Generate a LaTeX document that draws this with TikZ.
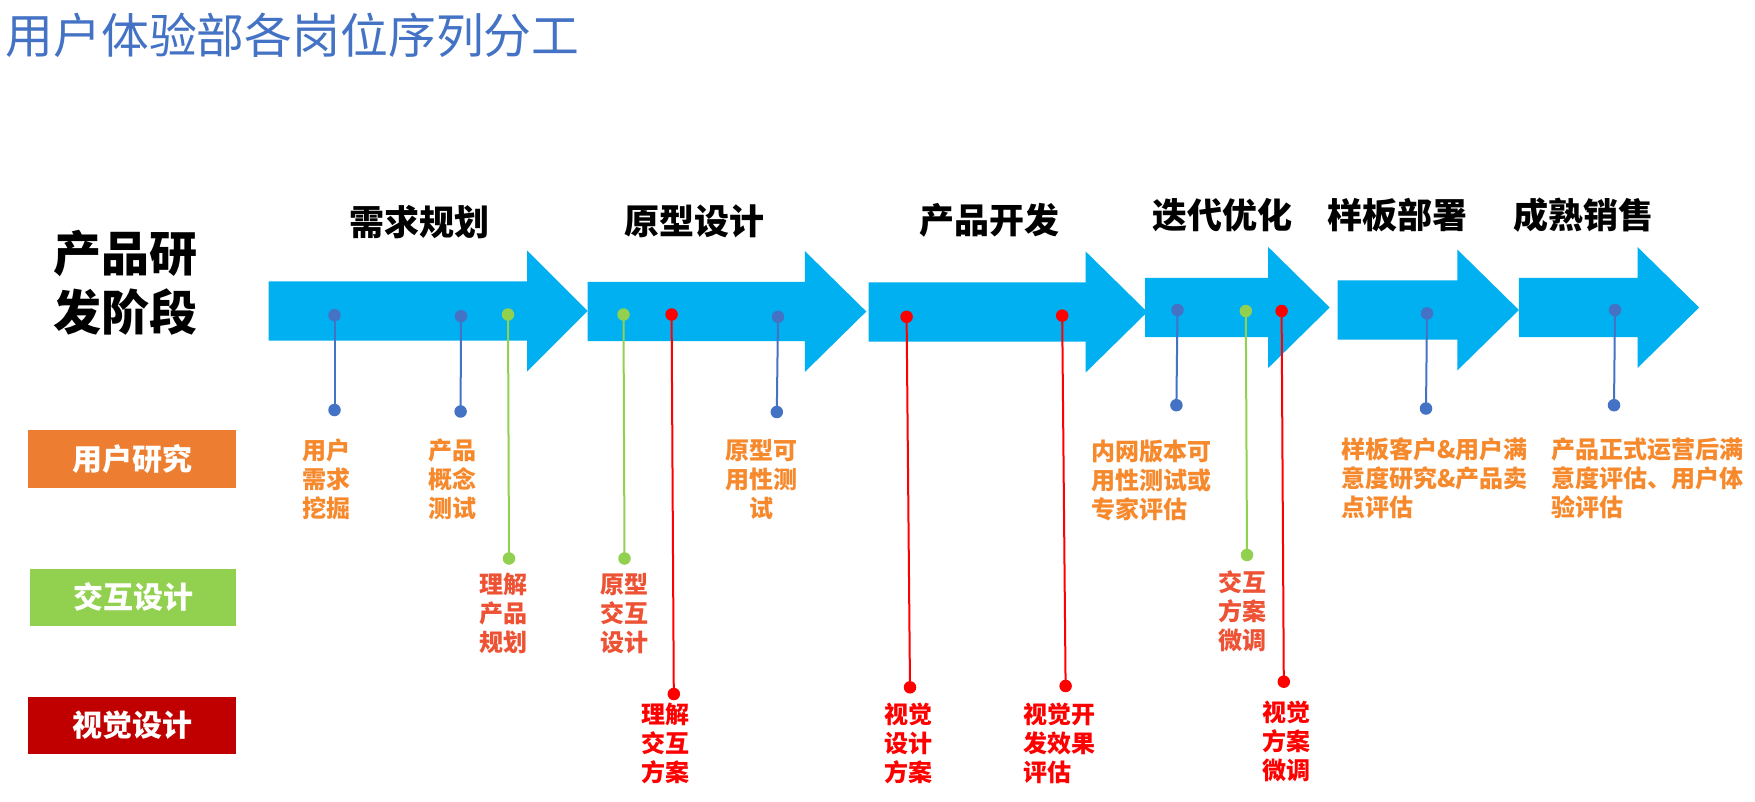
\documentclass[tikz,border=0pt]{standalone}
\usepackage{fontspec}
\setmainfont{Noto Sans CJK SC}
\definecolor{titleblue}{HTML}{4472C4}
\definecolor{arrowblue}{HTML}{00B0F0}
\definecolor{dotblue}{HTML}{4472C4}
\definecolor{dotgreen}{HTML}{92D050}
\definecolor{dotred}{HTML}{FF0000}
\definecolor{boxorange}{HTML}{ED7D31}
\definecolor{boxgreen}{HTML}{92D050}
\definecolor{boxred}{HTML}{C00000}
\definecolor{laborange}{RGB}{247,137,45}
\definecolor{labcoral}{RGB}{238,82,52}
\definecolor{labred}{HTML}{FF0000}
\newcommand\stagearrow[4]{% x1, head x, tip x, center y
  \fill[arrowblue] (#1,#4-29.7) -- (#2,#4-29.7) -- (#2,#4-60.5) -- (#3,#4)
    -- (#2,#4+60.5) -- (#2,#4+29.7) -- (#1,#4+29.7) -- cycle;}
\begin{document}
\begin{tikzpicture}[x=1pt,y=-1pt,
  stage/.style={inner sep=0pt, font=\bfseries\fontsize{35}{42}\selectfont},
  rowbox/.style={inner sep=0pt, minimum width=208pt, minimum height=58pt, text=white,
    font=\bfseries\fontsize{30}{36}\selectfont},
  dotb/.style={circle, fill=dotblue, inner sep=0pt, minimum size=12.5pt},
  dotg/.style={circle, fill=dotgreen, inner sep=0pt, minimum size=12.5pt},
  dotr/.style={circle, fill=dotred, inner sep=0pt, minimum size=12.5pt},
  lineb/.style={draw=dotblue, line width=2pt},
  lineg/.style={draw=dotgreen, line width=2pt},
  liner/.style={draw=dotred, line width=2pt},
  lab/.style={inner sep=0pt, anchor=north west, align=left,
    font=\bfseries\fontsize{24}{29}\selectfont},
  labc/.style={inner sep=0pt, anchor=north, align=center,
    font=\bfseries\fontsize{24}{29}\selectfont}]
\useasboundingbox[fill=white] (0,0) rectangle (1755,801);

% title
\node[anchor=north west, inner sep=0pt, text=titleblue,
  font=\fontsize{47.8}{56}\selectfont] (title) at (5.6,12.5) {用户体验部各岗位序列分工};

% phase label
\node[anchor=north west, inner sep=0pt, align=left,
  font=\bfseries\fontsize{48}{59}\selectfont] (phase) at (53.7,229.5) {产品研\\发阶段};

% arrows
\stagearrow{268.6}{527.2}{587.6}{311}
\stagearrow{587.6}{804.8}{866.3}{311.5}
\stagearrow{868.6}{1085.7}{1147.3}{312}
\stagearrow{1145}{1268.2}{1329.7}{307.5}
\stagearrow{1337.6}{1457.3}{1518.9}{310}
\stagearrow{1518.9}{1637.5}{1699.1}{307.5}

% stage labels
\node[stage] (s1) at (419.7,221.6) {需求规划};
\node[stage] (s2) at (694,221.6) {原型设计};
\node[stage] (s3) at (989.5,220.5) {产品开发};
\node[stage] (s4) at (1222.3,215) {迭代优化};
\node[stage] (s5) at (1397,215) {样板部署};
\node[stage] (s6) at (1583.8,215) {成熟销售};

% row boxes
\node[rowbox, fill=boxorange] (r1) at (132,459) {用户研究};
\node[rowbox, fill=boxgreen, minimum width=206pt, minimum height=57pt] (r2) at (133,597) {交互设计};
\node[rowbox, fill=boxred, minimum height=57pt] (r3) at (132,725.5) {视觉设计};

% blue connectors
\node[dotb] (a1) at (334.5,315.2) {}; \node[dotb] (a2) at (334.5,410) {};
\node[dotb] (b1) at (461,316.2) {};   \node[dotb] (b2) at (460.6,411.5) {};
\node[dotb] (c1) at (778,316.8) {};   \node[dotb] (c2) at (776.8,412) {};
\node[dotb] (d1) at (1177.5,310) {};  \node[dotb] (d2) at (1176.4,405.2) {};
\node[dotb] (e1) at (1427,313.4) {};  \node[dotb] (e2) at (1426,408.5) {};
\node[dotb] (f1) at (1615,310) {};    \node[dotb] (f2) at (1614,405.2) {};
\foreach \n in {a,b,c,d,e,f} \draw[lineb] (\n1.center) -- (\n2.center);

% green connectors
\node[dotg] (g1) at (508,314.5) {};   \node[dotg] (g2) at (509,558.5) {};
\node[dotg] (h1) at (623.5,314.5) {}; \node[dotg] (h2) at (624.5,558.5) {};
\node[dotg] (i1) at (1245.8,311) {};  \node[dotg] (i2) at (1247,555) {};
\foreach \n in {g,h,i} \draw[lineg] (\n1.center) -- (\n2.center);

% red connectors
\node[dotr] (j1) at (671.6,314.5) {}; \node[dotr] (j2) at (673.8,694) {};
\node[dotr] (k1) at (906.6,316.8) {}; \node[dotr] (k2) at (910,687.3) {};
\node[dotr] (l1) at (1062.2,315.6) {};\node[dotr] (l2) at (1065.6,686) {};
\node[dotr] (m1) at (1281.6,311) {};  \node[dotr] (m2) at (1283.8,681.7) {};
\foreach \n in {j,k,l,m} \draw[liner] (\n1.center) -- (\n2.center);

% user research labels
\node[lab, text=laborange] (la) at (302.2,438.8) {用户\\需求\\挖掘};
\node[lab, text=laborange] (lb) at (428.7,438.8) {产品\\概念\\测试};
\node[labc, text=laborange] (lc) at (761.7,438.8) {原型可\\用性测\\试};
\node[lab, text=laborange] (ld) at (1091.3,440) {内网版本可\\用性测试或\\专家评估};
\node[lab, text=laborange] (le) at (1341,437.6) {样板客户\&用户满\\意度研究\&产品卖\\点评估};
\node[lab, text=laborange] (lf) at (1551.4,437.6) {产品正式运营后满\\意度评估、用户体\\验评估};

% interaction labels
\node[lab, text=labcoral] (lg) at (479,573) {理解\\产品\\规划};
\node[lab, text=labcoral] (lh) at (600,573) {原型\\交互\\设计};
\node[lab, text=labcoral] (li) at (1217.8,570.8) {交互\\方案\\微调};

% visual labels
\node[lab, text=labred] (lj) at (641.4,703) {理解\\交互\\方案};
\node[lab, text=labred] (lk) at (884.2,703) {视觉\\设计\\方案};
\node[lab, text=labred] (ll) at (1023,703) {视觉开\\发效果\\评估};
\node[lab, text=labred] (lm) at (1262.6,700.7) {视觉\\方案\\微调};
\end{tikzpicture}
\end{document}
